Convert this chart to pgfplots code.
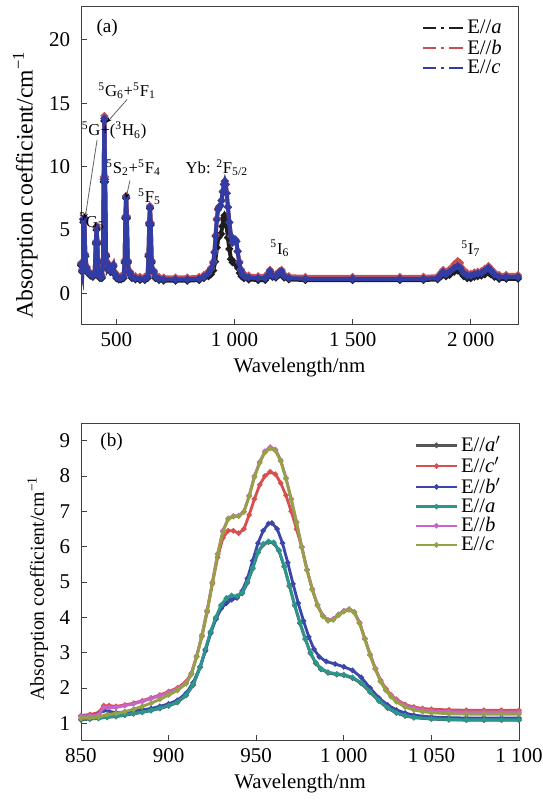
\documentclass[border=0pt]{standalone}
\usepackage{fontspec}
\setmainfont{Liberation Serif}
\usepackage{pgfplots}
\pgfplotsset{compat=1.18}
\usetikzlibrary{arrows.meta}

\definecolor{ablack}{RGB}{30,30,30}
\definecolor{ared}{RGB}{200,80,85}
\definecolor{ablue}{RGB}{50,60,165}
\definecolor{bblack}{RGB}{85,85,85}
\definecolor{bred}{RGB}{215,80,80}
\definecolor{bblue}{RGB}{60,70,170}
\definecolor{bteal}{RGB}{45,150,140}
\definecolor{bmag}{RGB}{200,100,200}
\definecolor{bolive}{RGB}{150,160,70}

\pgfplotsset{
  common/.style={
    scale only axis,
    axis line style={black!75, line width=0.6pt},
    tick align=inside,
    xtick pos=left, ytick pos=left,
    major tick length=3.5pt,
    tick style={black!75, line width=0.6pt},
    ticklabel style={font=\fontsize{12.6}{14}\selectfont},
    yticklabel style={xshift=-3pt},
    xticklabel style={yshift=-1pt},
    xlabel style={font=\fontsize{12.5}{15}\selectfont},
    /pgf/number format/assume math mode=true,
    /pgf/number format/1000 sep={\ },
    xlabel={Wavelength/nm},
    ylabel={Absorption coefficient/cm\textsuperscript{−1}},
    legend cell align=left,
    clip mode=individual,
  },
  aplot/.style={line width=2.4pt, mark=*, mark size=0.8pt, mark options={solid}},
  bplot/.style={line width=1.7pt, mark=*, mark size=0.6pt, mark options={solid}},
}

\begin{document}
\begin{tikzpicture}
\useasboundingbox (0,0) rectangle (325.8pt,485.4pt);

% ---------- (a) ----------
\begin{axis}[common,
  at={(48.6pt,290.4pt)}, anchor=south west,
  width=262.2pt, height=190.8pt,
  xmin=350, xmax=2200, ymin=-2.5, ymax=22.6,
  xtick={500,1000,1500,2000}, ytick={0,5,10,15,20},
  ylabel style={font=\fontsize{14.2}{16}\selectfont, at={(ticklabel cs:0.44)}},
  legend style={at={(axis description cs:0.975,0.975)}, anchor=north east,
    draw=none, fill=none, font=\fontsize{12.4}{14}\selectfont,
    row sep=-2pt, inner sep=1pt},
  legend image code/.code={
    \draw[#1, line width=1.3pt, dash pattern=on 8pt off 3pt on 2pt off 3pt]
      (0cm,0cm) -- (0.85cm,0cm);
  },
]
\addplot[aplot, ablack] coordinates {
(350,2.2) (355,1.7) (360,5.6) (364,5.7) (368,2.9) (374,1.9) (380,1.6) (390,1.4)
(400,1.3) (408,1.5) (413,3.9) (416,5.0) (419,3.9) (423,1.5) (430,1.2) (438,1.2)
(443,2.4) (446,8.8) (449,13.6) (452,8.8) (456,2.9) (462,1.9) (468,2.1) (475,1.7)
(482,1.9) (487,2.1) (492,1.5) (500,1.2) (510,1.1) (520,1.1) (530,1.2) (535,2.4)
(538,5.9) (541,7.5) (544,5.9) (548,2.4) (553,1.6) (558,1.5) (565,1.2) (580,1.1)
(600,1.05) (620,1.05) (632,1.2) (636,2.9) (639,5.4) (642,6.7) (645,5.4) (649,2.4)
(653,1.7) (658,1.6) (665,1.2) (680,1.05) (700,1.0) (750,1.0) (800,1.0) (850,1.05)
(870,1.2) (890,1.35) (900,1.5) (910,1.8) (918,2.5) (925,3.6) (932,4.4) (938,4.6)
(943,4.7) (948,5.3) (953,5.9) (958,6.15) (962,6.0) (966,5.4) (972,4.4) (978,3.5)
(985,2.7) (992,2.45) (1000,2.4) (1008,2.3) (1015,2.0) (1022,1.6) (1030,1.35)
(1040,1.2) (1060,1.1) (1100,1.05) (1130,1.05) (1140,1.3) (1150,1.6) (1160,1.3)
(1175,1.25) (1190,1.5) (1199,1.6) (1210,1.25) (1230,1.1) (1300,1.05) (1500,1.05)
(1700,1.05) (1800,1.05) (1860,1.1) (1875,1.35) (1883,1.5) (1895,1.35) (1910,1.45)
(1930,1.7) (1945,1.8) (1955,1.7) (1970,1.35) (1985,1.2) (2000,1.2) (2015,1.3)
(2030,1.35) (2045,1.4) (2060,1.5) (2075,1.65) (2085,1.5) (2100,1.3) (2120,1.15)
(2150,1.15) (2200,1.15)
};
\addlegendentry{E//\textit{a}}
\addplot[aplot, ared] coordinates {
(350,2.4) (355,1.9) (360,5.9) (364,6.0) (368,3.1) (374,2.1) (380,1.8) (390,1.6)
(400,1.5) (408,1.7) (413,4.1) (416,5.3) (419,4.1) (423,1.7) (430,1.45) (438,1.45)
(443,2.6) (446,9.2) (449,14.0) (452,9.2) (456,3.1) (462,2.1) (468,2.3) (475,1.9)
(482,2.1) (487,2.3) (492,1.7) (500,1.45) (510,1.35) (520,1.35) (530,1.45) (535,2.6)
(538,6.1) (541,7.7) (544,6.1) (548,2.6) (553,1.8) (558,1.7) (565,1.45) (580,1.35)
(600,1.3) (620,1.3) (632,1.45) (636,3.1) (639,5.6) (642,6.9) (645,5.6) (649,2.6)
(653,1.9) (658,1.8) (665,1.45) (680,1.3) (700,1.25) (750,1.25) (800,1.25) (850,1.3)
(870,1.45) (890,1.75) (900,2.0) (910,2.5) (915,3.3) (920,4.6) (925,5.9) (930,6.7)
(935,6.85) (940,6.95) (945,7.35) (950,8.05) (955,8.6) (959,8.85) (963,8.6) (967,7.9)
(972,6.8) (978,5.6) (985,4.5) (992,4.0) (997,4.1) (1003,4.25) (1008,4.1) (1013,3.35)
(1020,2.5) (1027,1.9) (1035,1.6) (1045,1.45) (1060,1.4) (1100,1.35) (1130,1.35)
(1140,1.55) (1150,1.85) (1160,1.55) (1175,1.5) (1190,1.75) (1199,1.85) (1210,1.5)
(1230,1.35) (1300,1.3) (1500,1.3) (1700,1.3) (1800,1.3) (1860,1.35) (1875,1.65)
(1883,1.85) (1895,1.7) (1910,1.9) (1930,2.3) (1945,2.55) (1955,2.4) (1970,1.85)
(1985,1.6) (2000,1.55) (2015,1.65) (2030,1.7) (2045,1.75) (2060,1.95) (2075,2.15)
(2085,1.95) (2100,1.65) (2120,1.45) (2150,1.45) (2200,1.45)
};
\addlegendentry{E//\textit{b}}
\addplot[aplot, ablue] coordinates {
(350,2.3) (355,1.8) (360,5.8) (364,5.9) (368,3.0) (374,2.0) (380,1.7) (390,1.5)
(400,1.4) (408,1.6) (413,4.0) (416,5.2) (419,4.0) (423,1.6) (430,1.3) (438,1.3)
(443,2.5) (446,9.0) (449,13.8) (452,9.0) (456,3.0) (462,2.0) (468,2.2) (475,1.8)
(482,2.0) (487,2.2) (492,1.6) (500,1.3) (510,1.2) (520,1.2) (530,1.3) (535,2.5)
(538,6.0) (541,7.6) (544,6.0) (548,2.5) (553,1.7) (558,1.6) (565,1.3) (580,1.2)
(600,1.15) (620,1.15) (632,1.3) (636,3.0) (639,5.5) (642,6.8) (645,5.5) (649,2.5)
(653,1.8) (658,1.7) (665,1.3) (680,1.15) (700,1.1) (750,1.1) (800,1.1) (850,1.15)
(870,1.3) (890,1.6) (900,1.9) (910,2.4) (915,3.2) (920,4.5) (925,5.8) (930,6.6)
(935,6.8) (940,6.9) (945,7.3) (950,8.0) (955,8.6) (959,8.85) (963,8.6) (967,7.9)
(972,6.8) (978,5.6) (985,4.5) (992,4.0) (997,4.1) (1003,4.25) (1008,4.1) (1013,3.3)
(1020,2.4) (1027,1.8) (1035,1.45) (1045,1.3) (1060,1.25) (1100,1.2) (1130,1.2)
(1140,1.4) (1150,1.75) (1160,1.4) (1175,1.35) (1190,1.65) (1199,1.75) (1210,1.35)
(1230,1.2) (1300,1.15) (1500,1.15) (1700,1.15) (1800,1.15) (1860,1.2) (1875,1.5)
(1883,1.7) (1895,1.5) (1910,1.7) (1930,2.0) (1945,2.15) (1955,2.0) (1970,1.6)
(1985,1.4) (2000,1.4) (2015,1.5) (2030,1.55) (2045,1.6) (2060,1.8) (2075,2.0)
(2085,1.8) (2100,1.5) (2120,1.3) (2150,1.3) (2200,1.3)
};
\addlegendentry{E//\textit{c}}

\begin{scope}[font=\fontsize{10}{12}\selectfont]
\node at (axis description cs:0.06,0.934) {\fontsize{11.5}{13}\selectfont(a)};
\node at (axis cs:396,5.67) {\textsuperscript{5}G\textsubscript{5}};
\node[anchor=west, inner sep=0pt] at (axis cs:352,12.83) {\textsuperscript{5}G+(\textsuperscript{3}H\textsubscript{6})};
\node at (axis cs:545,16.0) {\textsuperscript{5}G\textsubscript{6}+\textsuperscript{5}F\textsubscript{1}};
\node at (axis cs:572,9.92) {\textsuperscript{5}S\textsubscript{2}+\textsuperscript{5}F\textsubscript{4}};
\node at (axis cs:640,7.64) {\textsuperscript{5}F\textsubscript{5}};
\node at (axis cs:925,9.92) {Yb: \textsuperscript{2}F\textsubscript{5/2}};
\node at (axis cs:1192,3.54) {\textsuperscript{5}I\textsubscript{6}};
\node at (axis cs:2000,3.54) {\textsuperscript{5}I\textsubscript{7}};
\end{scope}
\draw[black!60, line width=0.5pt, -{Stealth[length=3pt,width=2.5pt,black]}]
  (axis cs:418,12.1) -- (axis cs:367,5.9);
\draw[black!60, line width=0.5pt, -{Stealth[length=3pt,width=2.5pt,black]}]
  (axis cs:545,15.3) -- (axis cs:460,13.5);
\draw[black!60, line width=0.5pt, -{Stealth[length=3pt,width=2.5pt,black]}]
  (axis cs:557,8.9) -- (axis cs:541,7.5);
\end{axis}

% ---------- (b) ----------
\begin{axis}[common,
  at={(48.6pt,40.8pt)}, anchor=south west,
  width=262.8pt, height=190.8pt,
  xmin=850, xmax=1100, ymin=0.5, ymax=9.5,
  xtick={850,900,950,1000,1050,1100}, ytick={1,2,...,9},
  ylabel style={font=\fontsize{11.9}{14}\selectfont, at={(ticklabel cs:0.48)}},
  legend style={at={(axis description cs:0.97,0.975)}, anchor=north east,
    draw=none, fill=none, font=\fontsize{12.4}{14}\selectfont,
    row sep=-2.4pt, inner sep=1pt},
  legend image code/.code={
    \draw[#1, line width=1.4pt] (0cm,0cm) -- (0.85cm,0cm);
    \draw[#1] plot coordinates {(0.425cm,0cm)};
  },
]
\addplot[bplot, bblack] coordinates {
(850,1.1) (855,1.12) (860,1.14) (865,1.17) (870,1.19) (875,1.23) (880,1.27) (885,1.31)
(890,1.36) (895,1.42) (900,1.49) (905,1.59) (910,1.79) (914,2.08) (918,2.58) (921,3.08)
(924,3.58) (927,3.98) (930,4.32) (933,4.52) (936,4.6) (939,4.58) (942,4.68) (945,4.98)
(948,5.38) (951,5.83) (954,6.06) (957,6.13) (960,6.1) (963,5.88) (966,5.43) (969,4.88)
(972,4.33) (975,3.83) (978,3.38) (981,2.98) (984,2.7) (987,2.53) (991,2.43) (996,2.38)
(1000,2.36) (1005,2.28) (1010,2.13) (1015,1.88) (1020,1.63) (1025,1.43) (1030,1.29)
(1035,1.21) (1040,1.16) (1050,1.12) (1060,1.1) (1070,1.09) (1080,1.09) (1090,1.09) (1100,1.09)
};
\addlegendentry{E//\textit{a}$'$}
\addplot[bplot, bred] coordinates {
(850,1.22) (855,1.25) (860,1.3) (863,1.5) (866,1.5) (870,1.48) (875,1.52) (880,1.57)
(885,1.64) (890,1.72) (895,1.8) (900,1.9) (905,2.0) (910,2.18) (913,2.42) (916,2.9)
(919,3.45) (922,4.15) (925,4.95) (928,5.7) (931,6.25) (934,6.45) (937,6.45) (940,6.38)
(943,6.5) (946,6.9) (949,7.35) (952,7.75) (955,8.0) (958,8.12) (961,8.05) (964,7.8)
(967,7.45) (970,7.0) (973,6.5) (976,5.98) (979,5.35) (982,4.8) (985,4.35) (988,4.05)
(991,3.92) (994,3.95) (997,4.08) (1000,4.18) (1003,4.23) (1006,4.15) (1009,3.85) (1012,3.4)
(1015,2.95) (1018,2.55) (1021,2.22) (1024,1.98) (1027,1.8) (1030,1.68) (1035,1.53)
(1040,1.46) (1045,1.42) (1050,1.4) (1060,1.38) (1070,1.37) (1080,1.37) (1090,1.37) (1100,1.37)
};
\addlegendentry{E//\textit{c}$'$}
\addplot[bplot, bblue] coordinates {
(850,1.2) (855,1.22) (860,1.27) (863,1.37) (866,1.34) (870,1.3) (875,1.32) (880,1.35)
(885,1.38) (890,1.42) (895,1.48) (900,1.55) (905,1.65) (910,1.85) (914,2.15) (918,2.6)
(921,3.05) (924,3.55) (927,3.95) (930,4.25) (933,4.4) (936,4.5) (939,4.55) (942,4.75)
(945,5.1) (948,5.6) (951,6.1) (954,6.45) (957,6.65) (959,6.67) (962,6.5) (965,6.1)
(968,5.55) (971,4.95) (974,4.4) (977,3.9) (980,3.45) (983,3.1) (986,2.88) (990,2.75)
(995,2.68) (1000,2.6) (1005,2.5) (1010,2.3) (1015,2.0) (1020,1.72) (1025,1.52) (1030,1.38)
(1035,1.29) (1040,1.23) (1050,1.18) (1060,1.16) (1070,1.15) (1080,1.15) (1090,1.15) (1100,1.15)
};
\addlegendentry{E//\textit{b}$'$}
\addplot[bplot, bteal] coordinates {
(850,1.12) (855,1.13) (860,1.15) (865,1.18) (870,1.2) (875,1.24) (880,1.28) (885,1.32)
(890,1.37) (895,1.43) (900,1.5) (905,1.6) (910,1.8) (914,2.1) (918,2.6) (921,3.1)
(924,3.6) (927,4.0) (930,4.35) (933,4.55) (936,4.62) (939,4.6) (942,4.7) (945,5.0)
(948,5.4) (951,5.85) (954,6.08) (957,6.15) (960,6.12) (963,5.9) (966,5.45) (969,4.9)
(972,4.35) (975,3.85) (978,3.4) (981,3.0) (984,2.72) (987,2.55) (991,2.45) (996,2.4)
(1000,2.38) (1005,2.3) (1010,2.15) (1015,1.9) (1020,1.65) (1025,1.45) (1030,1.3)
(1035,1.22) (1040,1.17) (1050,1.13) (1060,1.11) (1070,1.1) (1080,1.1) (1090,1.1) (1100,1.1)
};
\addlegendentry{E//\textit{a}}
\addplot[bplot, bmag] coordinates {
(850,1.2) (855,1.22) (860,1.25) (863,1.45) (866,1.45) (870,1.45) (875,1.5) (880,1.55)
(885,1.62) (890,1.7) (895,1.78) (900,1.87) (905,1.97) (910,2.15) (913,2.4) (916,2.9)
(919,3.5) (922,4.2) (925,5.0) (928,5.8) (931,6.45) (934,6.8) (937,6.87) (940,6.88)
(943,7.0) (946,7.45) (949,8.0) (952,8.4) (955,8.7) (958,8.82) (961,8.75) (964,8.45)
(967,7.95) (970,7.35) (973,6.7) (976,6.0) (979,5.35) (982,4.8) (985,4.35) (988,4.05)
(991,3.92) (994,3.95) (997,4.08) (1000,4.18) (1003,4.23) (1006,4.15) (1009,3.85) (1012,3.4)
(1015,2.95) (1018,2.55) (1021,2.2) (1024,1.95) (1027,1.78) (1030,1.65) (1035,1.5)
(1040,1.43) (1045,1.38) (1050,1.35) (1060,1.33) (1070,1.32) (1080,1.32) (1090,1.32) (1100,1.32)
};
\addlegendentry{E//\textit{b}}
\addplot[bplot, bolive] coordinates {
(850,1.15) (855,1.16) (860,1.18) (865,1.25) (870,1.28) (875,1.33) (880,1.4) (885,1.48)
(890,1.57) (895,1.68) (900,1.8) (905,1.93) (910,2.12) (913,2.38) (916,2.88) (919,3.48)
(922,4.18) (925,4.98) (928,5.78) (931,6.42) (934,6.78) (937,6.85) (940,6.86) (943,6.98)
(946,7.42) (949,7.97) (952,8.37) (955,8.67) (958,8.78) (961,8.72) (964,8.42) (967,7.92)
(970,7.33) (973,6.68) (976,5.98) (979,5.33) (982,4.78) (985,4.33) (988,4.03) (991,3.9)
(994,3.93) (997,4.06) (1000,4.16) (1003,4.21) (1006,4.13) (1009,3.83) (1012,3.38) (1015,2.93)
(1018,2.53) (1021,2.18) (1024,1.93) (1027,1.75) (1030,1.61) (1035,1.46) (1040,1.38)
(1045,1.33) (1050,1.3) (1060,1.27) (1070,1.26) (1080,1.26) (1090,1.26) (1100,1.26)
};
\addlegendentry{E//\textit{c}}
\node at (axis description cs:0.07,0.94) {\fontsize{11.5}{13}\selectfont(b)};
\end{axis}
\end{tikzpicture}
\end{document}
